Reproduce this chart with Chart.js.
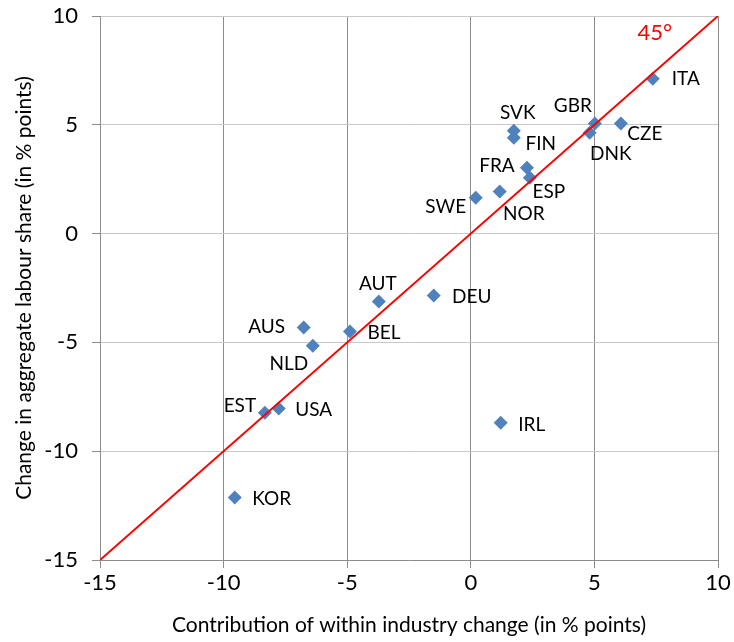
<!DOCTYPE html>
<html>
<head>
<meta charset="utf-8">
<script src="https://cdn.jsdelivr.net/npm/chart.js@4/dist/chart.umd.min.js"></script>
<style>
  html, body { margin: 0; padding: 0; background: #fff; }
  #wrap { width: 734px; height: 642px; }
</style>
</head>
<body>
<div id="wrap"><canvas id="scatterChart" width="734" height="642"></canvas></div>
<script>
// data
const countries = ['ITA', 'GBR', 'DNK', 'CZE', 'SVK', 'FIN', 'FRA', 'ESP', 'NOR', 'SWE',
                   'AUT', 'DEU', 'AUS', 'NLD', 'BEL', 'EST', 'USA', 'IRL', 'KOR'];
const withinChange = [7.36, 5.02, 4.81, 6.07, 1.74, 1.74, 2.27, 2.39, 1.17, 0.2,
                      -3.72, -1.5, -6.76, -6.39, -4.89, -8.33, -7.77, 1.21, -9.55];
const labourShareChange = [7.12, 5.06, 4.64, 5.06, 4.73, 4.41, 3.03, 2.57, 1.93, 1.65,
                           -3.12, -2.85, -4.32, -5.15, -4.5, -8.23, -8.04, -8.69, -12.13];
const diagonalX = [-15, 10];
const axisTicks = [-15, -10, -5, 0, 5, 10];

// where each country label sits relative to its marker (px)
const labelOffsets = {
    ITA: [33, 0], GBR: [-22, -18], DNK: [21, 21], CZE: [24, 10], SVK: [4, -18],
    FIN: [27, 6], FRA: [-30, -2], ESP: [19, 14], NOR: [24, 22], SWE: [-30, 9],
    AUT: [-1, -18], DEU: [38, 1], AUS: [-37, -1], NLD: [-24, 18], BEL: [34, 1],
    EST: [-25, -7], USA: [35, 1], IRL: [31, 2], KOR: [37, 1]
};

const fontFamily = 'Lato, "Open Sans", sans-serif';
const textColor = '#000';

const pointLabels = {
    id: 'pointLabels',
    afterDatasetsDraw(chart) {
        const ctx = chart.ctx;
        const meta = chart.getDatasetMeta(1);
        ctx.save();
        ctx.font = '19px ' + fontFamily;
        ctx.fillStyle = textColor;
        ctx.textAlign = 'center';
        ctx.textBaseline = 'middle';
        meta.data.forEach((pt, i) => {
            const off = labelOffsets[countries[i]];
            ctx.fillText(countries[i], pt.x + off[0], pt.y + off[1]);
        });
        // 45 degree mark near the top of the diagonal
        const xs = chart.scales.x, ys = chart.scales.y;
        ctx.fillStyle = '#ff0000';
        ctx.font = '22px ' + fontFamily;
        ctx.fillText('45°', xs.getPixelForValue(7.44), ys.getPixelForValue(9.24));
        ctx.restore();
    }
};

const ctx = document.getElementById('scatterChart').getContext('2d');

new Chart(ctx, {
    type: 'scatter',
    data: {
        datasets: [
            {
                type: 'line',
                data: diagonalX.map(v => ({ x: v, y: v })),
                borderColor: '#ff0000',
                borderWidth: 2,
                pointRadius: 0,
                fill: false
            },
            {
                data: withinChange.map((v, i) => ({ x: v, y: labourShareChange[i] })),
                backgroundColor: '#4f81bd',
                borderColor: '#4f81bd',
                pointStyle: 'rectRot',
                pointRadius: 7,
                pointHoverRadius: 7,
                borderWidth: 0
            }
        ]
    },
    options: {
        responsive: false,
        animation: false,
        layout: { padding: { top: 16, right: 16, left: 0, bottom: 0 } },
        scales: {
            x: {
                type: 'linear',
                min: -15,
                max: 10,
                afterBuildTicks: s => { s.ticks = axisTicks.map(v => ({ value: v })); },
                afterFit: s => { s.height = 82; s.paddingRight = 0; },
                grid: { color: '#8c8c8c', tickColor: '#8c8c8c', tickLength: 8 },
                border: { color: '#8c8c8c' },
                ticks: { color: textColor, font: { size: 22, family: fontFamily }, padding: 2 },
                title: {
                    display: true,
                    text: 'Contribution of within industry change (in % points)',
                    color: textColor,
                    font: { size: 21, family: fontFamily },
                    padding: { top: 2 }
                }
            },
            y: {
                type: 'linear',
                min: -15,
                max: 10,
                afterBuildTicks: s => { s.ticks = axisTicks.map(v => ({ value: v })); },
                afterFit: s => { s.width = 100; s.paddingTop = 0; s.paddingBottom = 0; },
                grid: { color: '#c8c8c8', tickColor: '#8c8c8c', tickLength: 8 },
                border: { color: '#8c8c8c' },
                ticks: { color: textColor, font: { size: 22, family: fontFamily }, padding: 14 },
                title: {
                    display: true,
                    text: 'Change in aggregate labour share (in % points)',
                    color: textColor,
                    font: { size: 21, family: fontFamily },
                    padding: { bottom: 0, top: 12 }
                }
            }
        },
        plugins: {
            legend: { display: false },
            tooltip: { enabled: false }
        }
    },
    plugins: [pointLabels]
});
</script>
</body>
</html>
